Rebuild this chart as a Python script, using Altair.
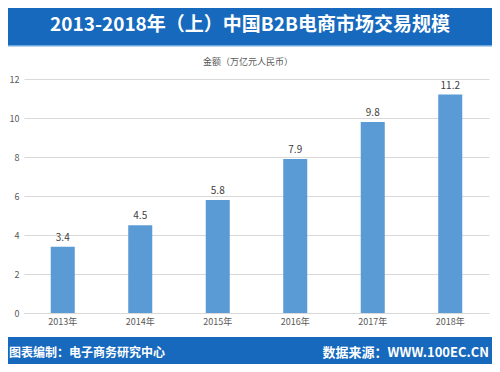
import altair as alt
import pandas as pd

years = ["2013年", "2014年", "2015年", "2016年", "2017年", "2018年"]
values = [3.4, 4.5, 5.8, 7.9, 9.8, 11.2]
y_ticks = [0, 2, 4, 6, 8, 10, 12]
title_text = "2013-2018年（上）中国B2B电商市场交易规模"
subtitle_text = "金额（万亿元人民币）"
footer_left = "图表编制：电子商务研究中心"
footer_right = "数据来源：WWW.100EC.CN"

df = pd.DataFrame({"year": years, "value": values})
one = pd.DataFrame({"k": [0]})

FONT = "Noto Sans CJK SC"
PL, PT = 16, 71
W, H = 465, 234
TOTAL_W, TOTAL_H = 484, 356
BLUE = "#1669bd"

x_enc = alt.X("year:N", sort=years, title=None,
              scale=alt.Scale(paddingInner=0.69, paddingOuter=0.345),
              axis=alt.Axis(labelAngle=0, labelColor="#595959", labelFontSize=9,
                            labelFont=FONT, domain=True, domainColor="#d9d9d9",
                            ticks=False, labelPadding=4))
y_enc = alt.Y("value:Q", title=None,
              scale=alt.Scale(domain=[0, 12], nice=False),
              axis=alt.Axis(values=y_ticks, labelColor="#595959", labelFontSize=9,
                            labelFont=FONT, domain=False, ticks=False,
                            labelOverlap=False,
                            gridColor="#d9d9d9", gridWidth=1, labelPadding=5))

bars = alt.Chart(df).mark_bar(color="#5b9bd5").encode(x=x_enc, y=y_enc)
labels = alt.Chart(df).mark_text(dy=-9, fontSize=10, color="#404040", font=FONT).encode(
    x=x_enc, y=y_enc, text=alt.Text("value:Q", format=".1f"))

header = alt.Chart(one).mark_rect(color=BLUE).encode(
    x=alt.value(-PL), x2=alt.value(TOTAL_W - PL), y=alt.value(-PT), y2=alt.value(37 - PT))
header_line = alt.Chart(one).mark_rect(color="#6fa8dc").encode(
    x=alt.value(-PL), x2=alt.value(TOTAL_W - PL), y=alt.value(37 - PT), y2=alt.value(38.5 - PT))
footer = alt.Chart(one).mark_rect(color=BLUE).encode(
    x=alt.value(-PL), x2=alt.value(TOTAL_W - PL), y=alt.value(329 - PT), y2=alt.value(TOTAL_H - PT))

title = alt.Chart(one).mark_text(text=title_text, color="white", fontSize=19,
                                 fontWeight="bold", font=FONT, align="center",
                                 baseline="middle").encode(
    x=alt.value(242 - PL), y=alt.value(17 - PT))
subtitle = alt.Chart(one).mark_text(text=subtitle_text, color="#595959", fontSize=9,
                                    font=FONT, align="center", baseline="middle").encode(
    x=alt.value(240 - PL), y=alt.value(54 - PT))
fl = alt.Chart(one).mark_text(text=footer_left, color="white", fontSize=12,
                              fontWeight="bold", font=FONT, align="left",
                              baseline="middle").encode(
    x=alt.value(1 - PL), y=alt.value(345 - PT))
fr = alt.Chart(one).mark_text(text=footer_right, color="white", fontSize=13,
                              fontWeight="bold", font=FONT, align="right",
                              baseline="middle").encode(
    x=alt.value(481 - PL), y=alt.value(345 - PT))

chart = alt.layer(bars, labels, header, header_line, footer, title, subtitle, fl, fr).properties(
    width=W, height=H,
    autosize=alt.AutoSizeParams(type="none"),
    padding={"left": PL, "top": PT, "right": TOTAL_W - PL - W, "bottom": TOTAL_H - PT - H},
    background="white",
).configure_view(stroke=None)

chart.save("out.html", embed_options={"renderer": "svg", "actions": False})
